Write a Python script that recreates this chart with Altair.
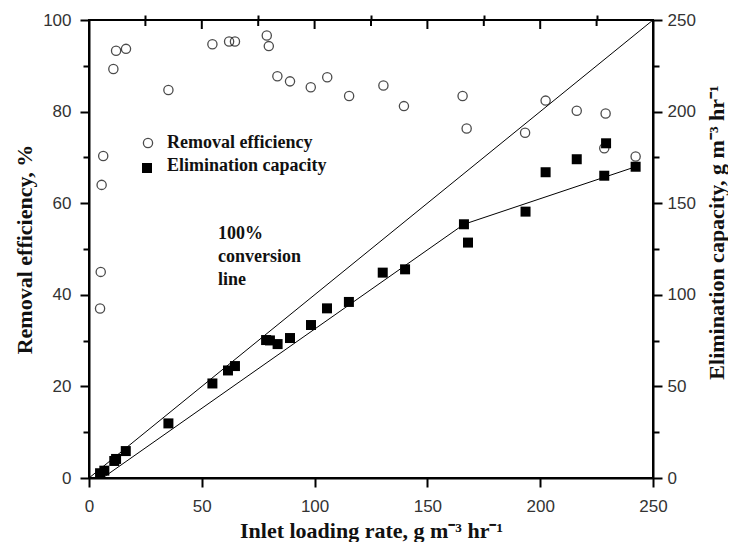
import altair as alt
import pandas as pd

# ---- data ----
re_load = [4.9, 5.2, 5.6, 6.3, 10.8, 12.0, 16.4, 35.2, 54.7, 62.1, 64.7, 78.8, 79.7, 83.5,
           89.1, 98.3, 105.6, 115.3, 130.5, 139.6, 165.6, 167.4, 193.3, 202.4, 216.2, 229.0,
           228.4, 242.3]
re_eff = [37.0, 45.0, 64.0, 70.3, 89.3, 93.3, 93.7, 84.7, 94.7, 95.3, 95.3, 96.6, 94.3, 87.7,
          86.6, 85.3, 87.5, 83.4, 85.7, 81.2, 83.4, 76.3, 75.4, 82.4, 80.2, 79.6, 72.0, 70.2]

ec_load = [4.9, 6.8, 11.2, 12.0, 16.3, 35.2, 54.7, 61.6, 64.7, 78.5, 80.2, 83.6, 89.1, 98.4,
           105.5, 115.2, 130.2, 140.1, 166.2, 168.0, 193.5, 202.4, 216.2, 229.2, 228.4, 242.3]
ec_val = [2.6, 4.0, 9.3, 10.4, 14.7, 29.8, 51.6, 58.7, 61.1, 75.3, 75.1, 73.1, 76.4, 83.5,
          92.6, 96.1, 112.1, 113.9, 138.5, 128.5, 145.4, 166.9, 174.0, 182.7, 165.0, 169.9]

conv_load = [0, 250]
conv_ec = [0, 250]
fit_load = [6.0, 166.2, 242.3]
fit_ec = [0.0, 138.5, 169.9]

x_major = [0, 50, 100, 150, 200, 250]
x_minor = [25, 75, 125, 175, 225]
left_major = [0, 20, 40, 60, 80, 100]
right_major = [0, 50, 100, 150, 200, 250]
right_minor = [25, 75, 125, 175, 225]
top_major = [50, 100, 150, 200]
top_minor = [25, 75, 125, 175, 225]

x_title = "Inlet loading rate, g m\u207b\u00b3 hr\u207b\u00b9"
left_title = "Removal efficiency, %"
right_title = "Elimination capacity, g m\u207b\u00b3 hr\u207b\u00b9"
legend_labels = ["Removal efficiency", "Elimination capacity"]
note_lines = ["100%", "conversion", "line"]

W, H = 564, 458
SERIF = "Liberation Serif"
SANS = "Liberation Sans"

df_re = pd.DataFrame({"load": re_load, "eff": re_eff})
df_ec = pd.DataFrame({"load": ec_load, "ec": ec_val})
df_conv = pd.DataFrame({"load": conv_load, "ec": conv_ec})
df_fit = pd.DataFrame({"load": fit_load, "ec": fit_ec})
df_topmaj = pd.DataFrame({"t": top_major})
df_topmin = pd.DataFrame({"t": top_minor})
one = pd.DataFrame({"a": [0]})

xscale = alt.Scale(domain=[0, 250], nice=False, zero=False)
re_scale = alt.Scale(domain=[0, 100], nice=False, zero=False)
ec_scale = alt.Scale(domain=[0, 250], nice=False, zero=False)

common_axis = dict(domainColor="black", domainWidth=2, tickColor="black", tickWidth=2,
                   grid=False, labelFont=SANS, labelFontSize=17, labelColor="#333",
                   titleFont=SERIF, titleFontSize=22, titleFontWeight="bold",
                   titleColor="#111", labelFlush=False)

circles = alt.Chart(df_re).mark_point(shape="circle", filled=False, color="black",
                                       size=85, strokeWidth=1.3).encode(
    x=alt.X("load:Q", scale=xscale,
            axis=alt.Axis(values=x_major, tickSize=9, labelPadding=11, title=x_title,
                          titleX=W / 2, titleY=52, titleBaseline="middle", **common_axis)),
    y=alt.Y("eff:Q", scale=re_scale,
            axis=alt.Axis(orient="left", values=left_major, tickSize=9, labelPadding=9,
                          title=left_title, titleAngle=270, titleX=-65, titleY=H / 2,
                          titleBaseline="middle", **common_axis)),
)

squares = alt.Chart(df_ec).mark_square(color="black", size=100, opacity=1).encode(
    x=alt.X("load:Q", scale=xscale, axis=None),
    y=alt.Y("ec:Q", scale=ec_scale,
            axis=alt.Axis(orient="right", values=right_major, tickSize=9, labelPadding=5,
                          title=right_title, titleAngle=270, titleX=63, titleY=212,
                          titleBaseline="middle", **common_axis)),
)

conv = alt.Chart(df_conv).mark_line(color="black", strokeWidth=1).encode(
    x=alt.X("load:Q", scale=xscale,
            axis=alt.Axis(values=x_minor, tickSize=5, labels=False, domain=False, title="",
                          tickColor="black", tickWidth=2, grid=False)),
    y=alt.Y("ec:Q", scale=ec_scale,
            axis=alt.Axis(orient="right", values=right_minor, tickSize=6, labels=False,
                          domain=False, title="", tickColor="black", tickWidth=2, grid=False)),
)

fit = alt.Chart(df_fit).mark_line(color="black", strokeWidth=1).encode(
    x=alt.X("load:Q", scale=xscale, axis=None),
    y=alt.Y("ec:Q", scale=ec_scale,
            axis=alt.Axis(orient="left", values=right_minor, tickSize=6, labels=False,
                          domain=False, title="", tickColor="black", tickWidth=2, grid=False)),
)

top_maj = alt.Chart(df_topmaj).mark_rule(color="black", strokeWidth=2).encode(
    x=alt.X("t:Q", scale=xscale, axis=None), y=alt.value(0), y2=alt.value(9))
top_min = alt.Chart(df_topmin).mark_rule(color="black", strokeWidth=2).encode(
    x=alt.X("t:Q", scale=xscale, axis=None), y=alt.value(0), y2=alt.value(6))

leg_c = alt.Chart(one).mark_point(shape="circle", filled=False, color="black", size=85,
                                  strokeWidth=1.3).encode(x=alt.value(59), y=alt.value(123))
leg_s = alt.Chart(one).mark_square(color="black", size=100, opacity=1).encode(
    x=alt.value(58), y=alt.value(148))
leg_t = [alt.Chart(one).mark_text(text=t, font=SERIF, fontSize=18, fontWeight="bold",
                                  color="#111", align="left", baseline="middle").encode(
    x=alt.value(78), y=alt.value(yy)) for t, yy in zip(legend_labels, [123, 146])]
note_t = [alt.Chart(one).mark_text(text=t, font=SERIF, fontSize=18, fontWeight="bold",
                                   color="#111", align="left", baseline="middle").encode(
    x=alt.value(129), y=alt.value(yy)) for t, yy in zip(note_lines, [214, 237, 260])]

chart = alt.layer(circles, squares, conv, fit, top_maj, top_min, leg_c, leg_s, *leg_t, *note_t
                  ).resolve_scale(y="independent").resolve_axis(x="independent", y="independent"
                  ).properties(width=W, height=H, autosize=alt.AutoSizeParams(type="none"),
                               padding={"left": 81, "top": 12, "right": 75, "bottom": 64}
                  ).configure_view(stroke="black", strokeWidth=2)

chart.save("out.html", embed_options={"renderer": "svg", "actions": False})
